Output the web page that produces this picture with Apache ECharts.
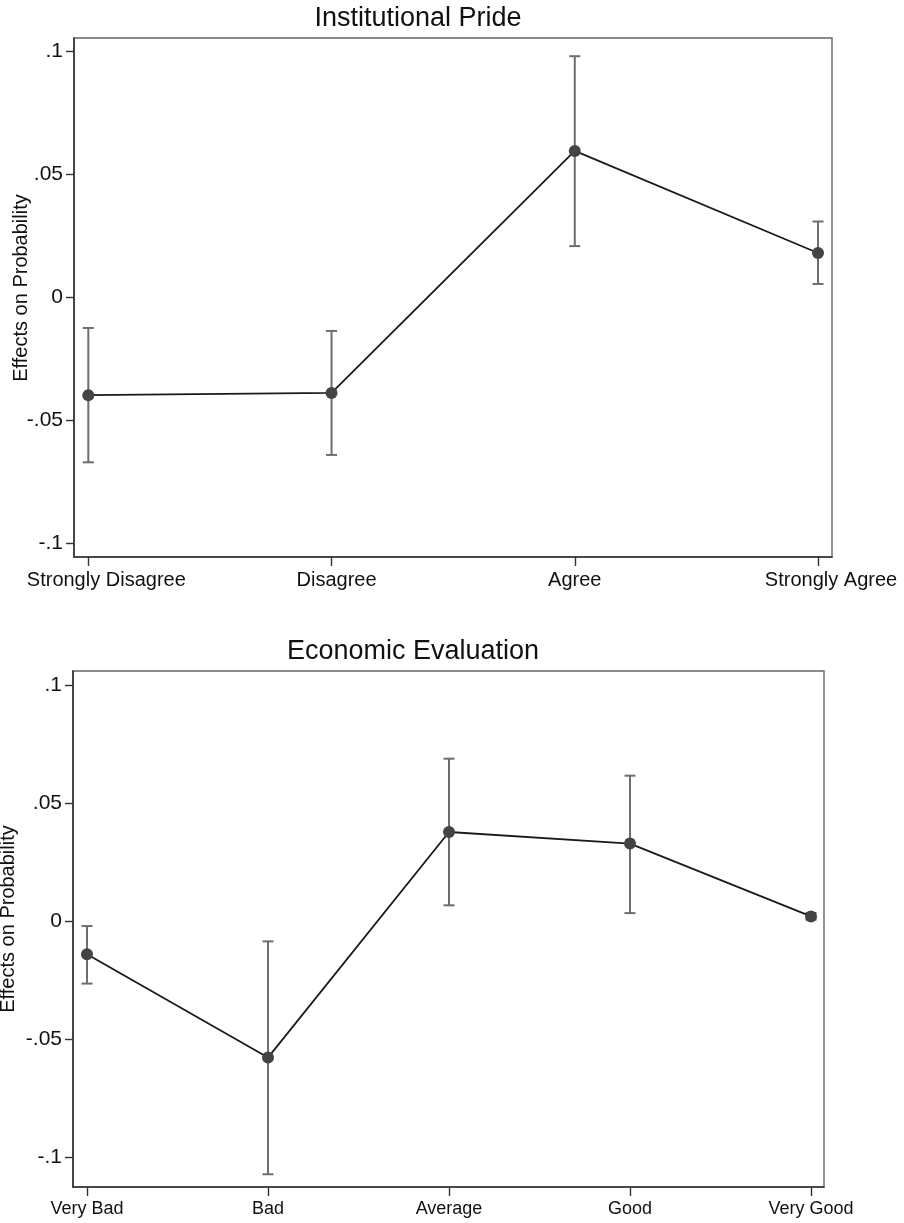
<!DOCTYPE html>
<html>
<head>
<meta charset="utf-8">
<style>
  html, body { margin: 0; padding: 0; background: #ffffff; }
  #chart { width: 904px; height: 1223px; }
</style>
<script src="https://cdn.jsdelivr.net/npm/echarts@6/dist/echarts.min.js"></script>
</head>
<body>
<div id="chart"></div>
<script>
// ---- Data ----
const titles = ['Institutional Pride', 'Economic Evaluation'];
const yAxisTitle = 'Effects on Probability';

const categoriesPride = ['Strongly Disagree', 'Disagree', 'Agree', 'Strongly Agree'];
const estimatePride = [-0.0397, -0.0388, 0.0596, 0.0181];
const lowerPride    = [-0.0670, -0.0640, 0.0209, 0.0055];
const upperPride    = [-0.0124, -0.0136, 0.0981, 0.0309];

const categoriesEcon = ['Very Bad', 'Bad', 'Average', 'Good', 'Very Good'];
const estimateEcon = [-0.0141, -0.0579, 0.0378, 0.0329, 0.0020];
const lowerEcon    = [-0.0265, -0.1074, 0.0067, 0.0034, 0.0006];
const upperEcon    = [-0.0021, -0.0086, 0.0689, 0.0617, 0.0034];

const yTickValues = [-0.1, -0.05, 0, 0.05, 0.1];
const yTickLabels = ['-.1', '-.05', '0', '.05', '.1'];

// ---- Styling ----
const FONT = '"Liberation Sans", Arial, Helvetica, sans-serif';
const TEXT = '#111111';
const AXIS = '#333333';
const BAR = '#6e6e6e';
const MARK = '#444444';
const LINE = '#1a1a1a';
// label horizontal shifts (px) in the top panel, as printed in the reference
const prideLabelShift = [18, 5, 0, 13];

const chart = echarts.init(document.getElementById('chart'), null, { renderer: 'canvas' });

function pointData(est) { return est.map((v, i) => [i, v]); }
function barData(lo, hi) { return lo.map((v, i) => [i, v, hi[i]]); }

function errRender(params, api) {
  const x = api.value(0);
  const pLo = api.coord([x, api.value(1)]);
  const pHi = api.coord([x, api.value(2)]);
  const w = 5.5;
  const st = { stroke: BAR, lineWidth: 2 };
  return {
    type: 'group',
    children: [
      { type: 'line', shape: { x1: pLo[0], y1: pLo[1], x2: pHi[0], y2: pHi[1] }, style: st },
      { type: 'line', shape: { x1: pLo[0] - w, y1: pLo[1], x2: pLo[0] + w, y2: pLo[1] }, style: st },
      { type: 'line', shape: { x1: pHi[0] - w, y1: pHi[1], x2: pHi[0] + w, y2: pHi[1] }, style: st }
    ]
  };
}

function makeX(gridIndex, cats, min, max, fontSize, shifts) {
  const idx = cats.map((c, i) => i);
  const rich = {};
  if (shifts) {
    shifts.forEach((s, i) => {
      rich['s' + i] = { fontFamily: FONT, fontSize: fontSize, color: TEXT, padding: [0, 0, 0, 2 * s] };
    });
  }
  return {
    type: 'value', gridIndex: gridIndex, min: min, max: max,
    axisLine: { show: true, onZero: false, lineStyle: { color: AXIS, width: 1.6 } },
    axisTick: { show: true, customValues: idx, length: 9, lineStyle: { color: AXIS, width: 1.4 } },
    axisLabel: {
      show: true, customValues: idx, margin: 13,
      fontFamily: FONT, fontSize: fontSize, color: TEXT,
      formatter: function (v) {
        const i = Math.round(v);
        return shifts ? '{s' + i + '|' + cats[i] + '}' : cats[i];
      },
      rich: rich
    },
    splitLine: { show: false }
  };
}

function makeY(gridIndex, min, max) {
  return {
    type: 'value', gridIndex: gridIndex, min: min, max: max,
    axisLine: { show: true, onZero: false, lineStyle: { color: AXIS, width: 1.6 } },
    axisTick: { show: true, customValues: yTickValues, length: 8, lineStyle: { color: AXIS, width: 1.4 } },
    axisLabel: {
      show: true, customValues: yTickValues, margin: 11,
      fontFamily: FONT, fontSize: 21, color: TEXT,
      formatter: function (v) {
        let k = 0, best = Infinity;
        yTickValues.forEach((t, i) => { const d = Math.abs(t - v); if (d < best) { best = d; k = i; } });
        return yTickLabels[k];
      }
    },
    splitLine: { show: false }
  };
}

const option = {
  backgroundColor: '#ffffff',
  animation: false,
  title: [
    { text: titles[0], left: 418, top: 19, padding: 0, textAlign: 'center', textVerticalAlign: 'middle',
      textStyle: { fontFamily: FONT, fontSize: 27, fontWeight: 'normal', color: TEXT } },
    { text: titles[1], left: 413, top: 652, padding: 0, textAlign: 'center', textVerticalAlign: 'middle',
      textStyle: { fontFamily: FONT, fontSize: 27, fontWeight: 'normal', color: TEXT } }
  ],
  graphic: [
    { type: 'text', x: 21, y: 288, rotation: Math.PI / 2,
      style: { text: yAxisTitle, font: '20px ' + FONT, fill: TEXT, textAlign: 'center', textVerticalAlign: 'middle' } },
    { type: 'text', x: 8.5, y: 919, rotation: Math.PI / 2,
      style: { text: yAxisTitle, font: '20px ' + FONT, fill: TEXT, textAlign: 'center', textVerticalAlign: 'middle' } }
  ],
  grid: [
    { left: 74, top: 38, width: 758, height: 519, show: true, borderColor: '#666666', borderWidth: 1.4, backgroundColor: '#ffffff' },
    { left: 73, top: 671, width: 751, height: 516, show: true, borderColor: '#666666', borderWidth: 1.4, backgroundColor: '#ffffff' }
  ],
  xAxis: [
    makeX(0, categoriesPride, -0.0588, 3.0575, 20, prideLabelShift),
    makeX(1, categoriesEcon, -0.0773, 4.0718, 18, null)
  ],
  yAxis: [
    makeY(0, -0.1055, 0.1055),
    makeY(1, -0.1128, 0.1061)
  ],
  series: [
    { type: 'custom', xAxisIndex: 0, yAxisIndex: 0, renderItem: errRender,
      encode: { x: 0, y: [1, 2] }, data: barData(lowerPride, upperPride), z: 2, silent: true },
    { type: 'line', xAxisIndex: 0, yAxisIndex: 0, data: pointData(estimatePride),
      symbol: 'circle', symbolSize: 12, z: 3,
      itemStyle: { color: MARK }, lineStyle: { color: LINE, width: 1.8 } },
    { type: 'custom', xAxisIndex: 1, yAxisIndex: 1, renderItem: errRender,
      encode: { x: 0, y: [1, 2] }, data: barData(lowerEcon, upperEcon), z: 2, silent: true },
    { type: 'line', xAxisIndex: 1, yAxisIndex: 1, data: pointData(estimateEcon),
      symbol: 'circle', symbolSize: 12, z: 3,
      itemStyle: { color: MARK }, lineStyle: { color: LINE, width: 1.8 } }
  ]
};

chart.setOption(option);
</script>
</body>
</html>
